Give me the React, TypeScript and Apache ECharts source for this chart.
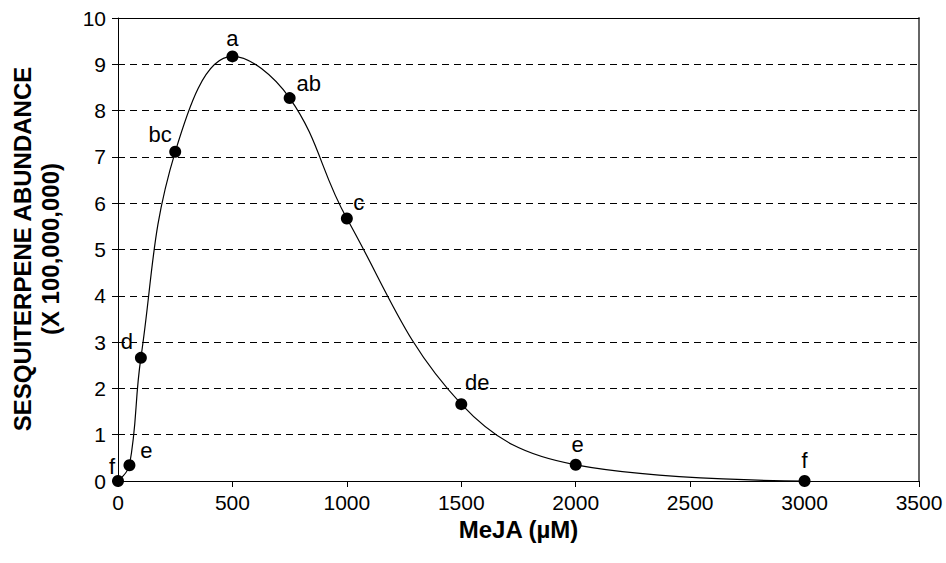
import React, { useEffect, useRef } from "react";
import * as echarts from "echarts";

const doses = [0, 50, 100, 250, 500, 750, 1000, 1500, 2000, 3000];
const abundance = [0, 0.34, 2.66, 7.11, 9.17, 8.27, 5.67, 1.66, 0.35, 0];
const letters = ["f", "e", "d", "bc", "a", "ab", "c", "de", "e", "f"];
const labelOffsets: [number, number][] = [
  [-6, -15], [17, -15], [-14, -16], [-15, -17], [0, -18],
  [19, -15], [12, -16], [16, -22], [2, -20], [0, -21],
];

const FONT = "'Liberation Sans', Arial, sans-serif";

export default function App() {
  const ref = useRef<HTMLDivElement>(null);
  useEffect(() => {
    if (!ref.current) return;
    const chart = echarts.init(ref.current, null, { renderer: "svg" });
    chart.setOption({
      animation: false,
      backgroundColor: "#fff",
      textStyle: { fontFamily: FONT },
      grid: { left: 118, right: 27, top: 18, bottom: 82 },
      xAxis: [
        {
          type: "value",
          min: 0,
          max: 3500,
          interval: 500,
          axisLine: { show: true, lineStyle: { color: "#000", width: 1 } },
          axisTick: { show: true, length: 6, lineStyle: { color: "#000" } },
          axisLabel: {
            fontSize: 21,
            color: "#000",
            fontFamily: FONT,
            margin: 11,
            formatter: (v: number) => String(v),
          },
          splitLine: { show: false },
          name: "MeJA (µM)",
          nameLocation: "middle",
          nameGap: 33,
          nameTextStyle: { fontSize: 24, fontWeight: "bold", color: "#000", fontFamily: FONT },
        },
        {
          type: "value",
          position: "top",
          min: 0,
          max: 3500,
          axisLine: { show: true, onZero: false, lineStyle: { color: "#000", width: 1 } },
          axisTick: { show: false },
          axisLabel: { show: false },
          splitLine: { show: false },
        },
      ],
      yAxis: [
        {
          type: "value",
          min: 0,
          max: 10,
          interval: 1,
          axisLine: { show: true, lineStyle: { color: "#000", width: 1 } },
          axisTick: { show: true, length: 6, lineStyle: { color: "#000" } },
          axisLabel: { fontSize: 21, color: "#000", fontFamily: FONT, margin: 12 },
          splitLine: { show: true, lineStyle: { color: "#000", type: [7, 5], width: 1 } },
        },
        {
          type: "value",
          position: "right",
          min: 0,
          max: 10,
          axisLine: { show: true, onZero: false, lineStyle: { color: "#666", width: 2 } },
          axisTick: { show: false },
          axisLabel: { show: false },
          splitLine: { show: false },
        },
      ],
      graphic: [
        {
          type: "text",
          x: 36,
          y: 249,
          rotation: Math.PI / 2,
          style: {
            text: "SESQUITERPENE ABUNDANCE\n(X 100,000,000)",
            fontSize: 24,
            fontWeight: "bold",
            fontFamily: FONT,
            fill: "#000",
            align: "center",
            verticalAlign: "middle",
            lineHeight: 28,
          },
        },
      ],
      series: [
        {
          type: "line",
          xAxisIndex: 0,
          yAxisIndex: 0,
          smooth: 0.4,
          clip: false,
          symbol: "circle",
          symbolSize: 12,
          itemStyle: { color: "#000" },
          lineStyle: { color: "#000", width: 1.2 },
          z: 5,
          data: doses.map((d, i) => ({
            value: [d, abundance[i]],
            label: {
              show: true,
              formatter: letters[i],
              position: "inside",
              offset: labelOffsets[i],
              fontSize: 22,
              color: "#000",
              fontFamily: FONT,
              align: "center",
              verticalAlign: "middle",
            },
          })),
        },
      ],
    });
    return () => chart.dispose();
  }, []);
  return (
    <div
      ref={ref}
      style={{ position: "fixed", left: 0, top: 0, width: 946, height: 563 }}
    />
  );
}
